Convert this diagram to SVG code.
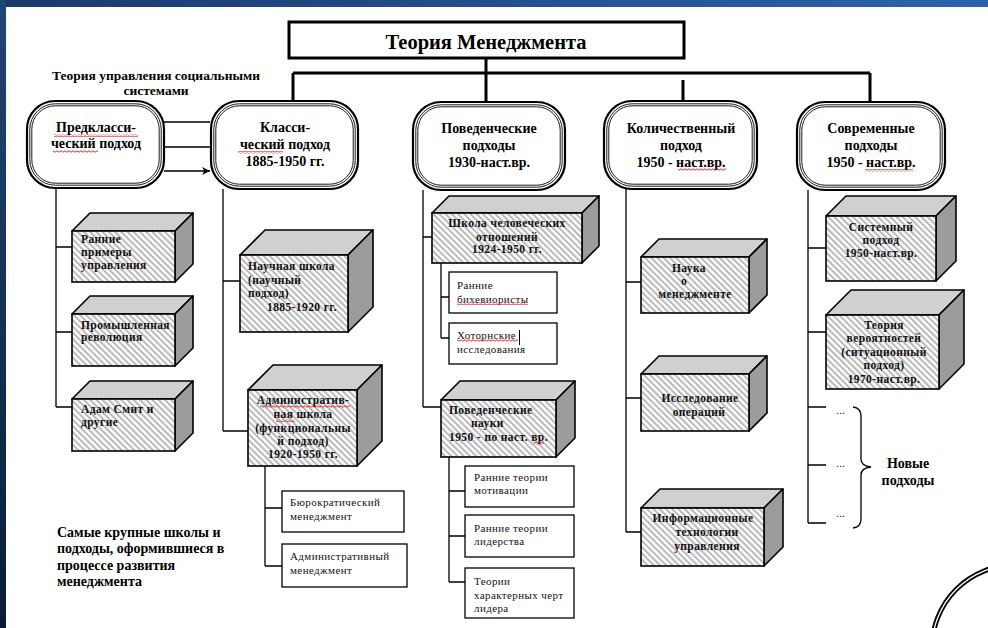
<svg xmlns="http://www.w3.org/2000/svg" width="988" height="628" viewBox="0 0 988 628" font-family="'Liberation Serif', 'DejaVu Serif', serif">
  <defs>
    <linearGradient id="barTop" x1="0" y1="0" x2="1" y2="0">
      <stop offset="0" stop-color="#1b3a6c"/>
      <stop offset="1" stop-color="#2d63ac"/>
    </linearGradient>
    <linearGradient id="barLeft" x1="0" y1="0" x2="0" y2="1">
      <stop offset="0" stop-color="#1f4678"/>
      <stop offset="1" stop-color="#0a1b37"/>
    </linearGradient>
    <pattern id="hatch" patternUnits="userSpaceOnUse" width="4.4" height="4.4" patternTransform="rotate(-45)">
      <rect width="4.4" height="4.4" fill="#ffffff"/>
      <rect width="2" height="4.4" fill="#b9b9b9"/>
    </pattern>
    <pattern id="wave" patternUnits="userSpaceOnUse" width="4" height="3">
      <path d="M0 1.5 Q1 0 2 1.5 T4 1.5" fill="none" stroke="#e01010" stroke-width="0.9"/>
    </pattern>
    <marker id="arrow" viewBox="0 0 10 10" refX="10" refY="5" markerWidth="8" markerHeight="8" orient="auto" markerUnits="userSpaceOnUse">
      <path d="M0 0 L10 5 L0 10 L3 5 Z" fill="#000"/>
    </marker>
    <style>
      text { font-family: "Liberation Serif", "DejaVu Serif", serif; }
      .ttl { font-weight: bold; fill: #000; }
      .bx { font-weight: bold; font-size: 14px; text-anchor: middle; fill: #000; }
      .cb { font-weight: bold; font-size: 11.5px; letter-spacing: 0.4px; fill: #111; }
      .cbm { text-anchor: middle; }
      .sb { font-size: 11px; letter-spacing: 0.4px; fill: #111; }
      .note { font-weight: bold; font-size: 14px; fill: #000; }
      .r-out { fill: #fff; stroke: #000; stroke-width: 2.2; }
      .r-in { fill: none; stroke: #000; stroke-width: 0.9; }
      .front { fill: url(#hatch); stroke: #000; stroke-width: 1.6; }
      .top { fill: #d0d0d0; stroke: #000; stroke-width: 1.6; stroke-linejoin: round; }
      .side { fill: #9c9c9c; stroke: #000; stroke-width: 1.6; stroke-linejoin: round; }
      .plain { fill: #fff; stroke: #000; stroke-width: 1.3; }
      .ln { fill: none; stroke: #000; stroke-width: 1.3; }
      .thick { fill: none; stroke: #000; stroke-width: 3; }
      .wv { fill: url(#wave); }
    </style>
  </defs>

  <!-- page background and frame bars -->
  <rect x="0" y="0" width="988" height="628" fill="#ffffff"/>
  <rect x="0" y="0" width="988" height="7" fill="url(#barTop)"/>
  <rect x="0" y="0" width="6" height="628" fill="url(#barLeft)"/>

  <!-- connectors -->
  <g id="connectors">
    <path class="thick" d="M486 58 V101 M293 73 H870 M293 73 V101 M870 73 V101 M683 80 V101"/>
    <path class="ln" d="M164 122 H210 M164 147 H210 M164 171 H210" marker-end="url(#arrow)"/>
    <!-- pre-classical column -->
    <path class="ln" d="M56 188 V407 M56 247 H72 M56 332 H72 M56 407 H72"/>
    <!-- classical column -->
    <path class="ln" d="M223 189 V431 M223 281 H240 M223 431 H248"/>
    <path class="ln" d="M265 466 V566 M265 508 H282 M265 566 H282"/>
    <!-- behavioural column -->
    <path class="ln" d="M423 190 V407 M423 237 H432 M423 407 H441"/>
    <path class="ln" d="M441 263 V338 M441 297 H449 M441 338 H449"/>
    <path class="ln" d="M449 457 V582 M449 491 H465 M449 536 H465 M449 582 H465"/>
    <!-- quantitative column -->
    <path class="ln" d="M626 189 V532 M626 282 H641 M626 398 H641 M626 532 H641"/>
    <!-- modern column -->
    <path class="ln" d="M808 190 V523 M808 248 H826 M808 332 H826 M808 407 H826 M808 465 H826 M808 523 H826"/>
    <path class="ln" d="M853 407 Q861 408 861 416 L861 459 Q861 466 871 467 Q861 468 861 475 L861 519 Q861 527 853 528"/>
  </g>

  <!-- title -->
  <g id="title">
    <rect x="289" y="22" width="395" height="36" fill="#fff" stroke="#000" stroke-width="3"/>
    <text class="ttl" x="486" y="49" font-size="20.5" text-anchor="middle">Теория Менеджмента</text>
  </g>

  <g id="social-label">
    <text class="ttl" x="156" y="80" font-size="13.5" text-anchor="middle">Теория управления социальными</text>
    <text class="ttl" x="156" y="95" font-size="13.5" text-anchor="middle">системами</text>
  </g>

  <!-- main approaches -->
  <g id="pre-classical">
    <rect class="r-out" x="27" y="101" width="137" height="87" rx="28"/>
    <rect class="r-in" x="29.8" y="103.8" width="131.4" height="81.4" rx="25.5"/>
    <rect class="r-in" x="31.8" y="105.8" width="127.4" height="77.4" rx="23.5"/>
    <text class="bx" x="96" y="132">Предкласси-</text>
    <text class="bx" x="96" y="148">ческий подход</text>
    <rect class="wv" x="54" y="134" width="84" height="3"/>
    <rect class="wv" x="53" y="150" width="45" height="3"/>
  </g>

  <g id="classical">
    <rect class="r-out" x="211" y="101" width="147" height="88" rx="28"/>
    <rect class="r-in" x="213.8" y="103.8" width="141.4" height="82.4" rx="25.5"/>
    <rect class="r-in" x="215.8" y="105.8" width="137.4" height="78.4" rx="23.5"/>
    <text class="bx" x="285" y="132">Класси-</text>
    <text class="bx" x="285" y="149">ческий подход</text>
    <text class="bx" x="285" y="166">1885-1950 гг.</text>
    <rect class="wv" x="238" y="151" width="45" height="3"/>
  </g>

  <g id="behavioural">
    <rect class="r-out" x="413" y="102" width="152" height="88" rx="28"/>
    <rect class="r-in" x="415.8" y="104.8" width="146.4" height="82.4" rx="25.5"/>
    <rect class="r-in" x="417.8" y="106.8" width="142.4" height="78.4" rx="23.5"/>
    <text class="bx" x="489" y="133">Поведенческие</text>
    <text class="bx" x="489" y="150">подходы</text>
    <text class="bx" x="489" y="167">1930-наст.вр.</text>
  </g>

  <g id="quantitative">
    <rect class="r-out" x="604" y="101" width="153" height="88" rx="28"/>
    <rect class="r-in" x="606.8" y="103.8" width="147.4" height="82.4" rx="25.5"/>
    <rect class="r-in" x="608.8" y="105.8" width="143.4" height="78.4" rx="23.5"/>
    <text class="bx" x="681" y="133">Количественный</text>
    <text class="bx" x="681" y="150">подход</text>
    <text class="bx" x="681" y="167">1950 - наст.вр.</text>
    <rect class="wv" x="678" y="168" width="48" height="3"/>
  </g>

  <g id="modern">
    <rect class="r-out" x="797" y="102" width="148" height="88" rx="28"/>
    <rect class="r-in" x="799.8" y="104.8" width="142.4" height="82.4" rx="25.5"/>
    <rect class="r-in" x="801.8" y="106.8" width="138.4" height="78.4" rx="23.5"/>
    <text class="bx" x="871" y="133">Современные</text>
    <text class="bx" x="871" y="150">подходы</text>
    <text class="bx" x="871" y="167">1950 - наст.вр.</text>
    <rect class="wv" x="865" y="169" width="48" height="3"/>
  </g>

  <!-- pre-classical schools -->
  <g id="early-examples">
    <polygon class="top" points="72,231 90,213 193,213 175,231"/>
    <polygon class="side" points="175,231 193,213 193,264 175,282"/>
    <rect class="front" x="72" y="231" width="103" height="51"/>
    <text class="cb" x="81" y="243">Ранние</text>
    <text class="cb" x="81" y="256">примеры</text>
    <text class="cb" x="81" y="269">управления</text>
  </g>

  <g id="industrial-revolution">
    <polygon class="top" points="72,314 90,296 193,296 175,314"/>
    <polygon class="side" points="175,314 193,296 193,348 175,366"/>
    <rect class="front" x="72" y="314" width="103" height="52"/>
    <text class="cb" x="81" y="329">Промышленная</text>
    <text class="cb" x="81" y="341">революция</text>
  </g>

  <g id="adam-smith">
    <polygon class="top" points="72,399 90,381 193,381 175,399"/>
    <polygon class="side" points="175,399 193,381 193,433 175,451"/>
    <rect class="front" x="72" y="399" width="103" height="52"/>
    <text class="cb" x="81" y="413">Адам Смит и</text>
    <text class="cb" x="81" y="426">другие</text>
  </g>

  <!-- classical schools -->
  <g id="scientific-school">
    <polygon class="top" points="240,255 265,230 373,230 348,255"/>
    <polygon class="side" points="348,255 373,230 373,307 348,332"/>
    <rect class="front" x="240" y="255" width="108" height="77"/>
    <text class="cb" x="248" y="270">Научная школа</text>
    <text class="cb" x="248" y="284">(научный</text>
    <text class="cb" x="248" y="297">подход)</text>
    <text class="cb" x="267" y="311">1885-1920 гг.</text>
  </g>

  <g id="administrative-school">
    <polygon class="top" points="248,390 273,365 382,365 357,390"/>
    <polygon class="side" points="357,390 382,365 382,441 357,466"/>
    <rect class="front" x="248" y="390" width="109" height="76"/>
    <text class="cb cbm" x="303" y="404">Административ-</text>
    <text class="cb cbm" x="303" y="418">ная школа</text>
    <text class="cb cbm" x="303" y="432">(функциональны</text>
    <text class="cb cbm" x="303" y="445">й подход)</text>
    <text class="cb cbm" x="303" y="458">1920-1950 гг.</text>
    <rect class="wv" x="260" y="405" width="90" height="3"/>
    <rect class="wv" x="276" y="419" width="19" height="3"/>
  </g>

  <g id="bureaucratic">
    <rect class="plain" x="282" y="491" width="122" height="41"/>
    <text class="sb" x="290" y="506">Бюрократический</text>
    <text class="sb" x="290" y="520">менеджмент</text>
  </g>

  <g id="administrative-mgmt">
    <rect class="plain" x="282" y="544" width="125" height="43"/>
    <text class="sb" x="290" y="560">Административный</text>
    <text class="sb" x="290" y="574">менеджмент</text>
  </g>

  <!-- behavioural schools -->
  <g id="human-relations">
    <polygon class="top" points="432,213 449,196 599,196 582,213"/>
    <polygon class="side" points="582,213 599,196 599,246 582,263"/>
    <rect class="front" x="432" y="213" width="150" height="50"/>
    <text class="cb cbm" x="507" y="227">Школа человеческих</text>
    <text class="cb cbm" x="507" y="241">отношений</text>
    <text class="cb cbm" x="507" y="253">1924-1950 гг.</text>
  </g>

  <g id="early-behaviourists">
    <rect class="plain" x="449" y="272" width="108" height="41"/>
    <text class="sb" x="457" y="289">Ранние</text>
    <text class="sb" x="457" y="303">бихевиористы</text>
    <rect class="wv" x="457" y="302" width="71" height="3"/>
  </g>

  <g id="hawthorne">
    <rect class="plain" x="449" y="323" width="108" height="41"/>
    <text class="sb" x="457" y="339">Хоторнские</text>
    <text class="sb" x="457" y="353">исследования</text>
    <rect class="wv" x="457" y="339" width="61" height="3"/>
    <line x1="519.5" y1="330" x2="519.5" y2="345" stroke="#000" stroke-width="1"/>
  </g>

  <g id="behavioural-sciences">
    <polygon class="top" points="441,400 460,381 575,381 556,400"/>
    <polygon class="side" points="556,400 575,381 575,438 556,457"/>
    <rect class="front" x="441" y="400" width="115" height="57"/>
    <text class="cb" x="449" y="414">Поведенческие</text>
    <text class="cb" x="471" y="427">науки</text>
    <text class="cb" x="449" y="441">1950 - по наст. вр.</text>
    <rect class="wv" x="533" y="442" width="11" height="3"/>
  </g>

  <g id="motivation">
    <rect class="plain" x="465" y="466" width="109" height="41"/>
    <text class="sb" x="474" y="481">Ранние теории</text>
    <text class="sb" x="474" y="494">мотивации</text>
  </g>

  <g id="leadership">
    <rect class="plain" x="465" y="515" width="109" height="42"/>
    <text class="sb" x="474" y="532">Ранние теории</text>
    <text class="sb" x="474" y="545">лидерства</text>
  </g>

  <g id="traits">
    <rect class="plain" x="465" y="568" width="109" height="50"/>
    <text class="sb" x="474" y="585">Теории</text>
    <text class="sb" x="474" y="599">характерных черт</text>
    <text class="sb" x="474" y="612">лидера</text>
  </g>

  <!-- quantitative schools -->
  <g id="management-science">
    <polygon class="top" points="641,257 659,239 767,239 749,257"/>
    <polygon class="side" points="749,257 767,239 767,295 749,313"/>
    <rect class="front" x="641" y="257" width="108" height="56"/>
    <text class="cb cbm" x="689" y="272">Наука</text>
    <text class="cb cbm" x="684" y="285">о</text>
    <text class="cb cbm" x="695" y="298">менеджменте</text>
  </g>

  <g id="operations-research">
    <polygon class="top" points="641,374 659,356 767,356 749,374"/>
    <polygon class="side" points="749,374 767,356 767,413 749,431"/>
    <rect class="front" x="641" y="374" width="108" height="57"/>
    <text class="cb cbm" x="700" y="402">Исследование</text>
    <text class="cb cbm" x="699" y="416">операций</text>
  </g>

  <g id="information-technology">
    <polygon class="top" points="641,508 660,489 783,489 764,508"/>
    <polygon class="side" points="764,508 783,489 783,547 764,566"/>
    <rect class="front" x="641" y="508" width="123" height="58"/>
    <text class="cb cbm" x="703" y="522">Информационные</text>
    <text class="cb cbm" x="707" y="536">технологии</text>
    <text class="cb cbm" x="707" y="550">управления</text>
  </g>

  <!-- modern approaches -->
  <g id="systems-approach">
    <polygon class="top" points="826,216 846,196 956,196 936,216"/>
    <polygon class="side" points="936,216 956,196 956,261 936,281"/>
    <rect class="front" x="826" y="216" width="110" height="65"/>
    <text class="cb cbm" x="881" y="231">Системный</text>
    <text class="cb cbm" x="881" y="244">подход</text>
    <text class="cb cbm" x="881" y="257">1950-наст.вр.</text>
  </g>

  <g id="contingency">
    <polygon class="top" points="826,315 851,290 964,290 939,315"/>
    <polygon class="side" points="939,315 964,290 964,364 939,389"/>
    <rect class="front" x="826" y="315" width="113" height="74"/>
    <text class="cb cbm" x="884" y="329">Теория</text>
    <text class="cb cbm" x="884" y="342">вероятностей</text>
    <text class="cb cbm" x="884" y="356">(ситуационный</text>
    <text class="cb cbm" x="884" y="369">подход)</text>
    <text class="cb cbm" x="884" y="383">1970-наст.вр.</text>
  </g>

  <g id="new-approaches">
    <text class="sb" x="836" y="414">...</text>
    <text class="sb" x="836" y="467">...</text>
    <text class="sb" x="836" y="517">...</text>
    <text class="note" x="908" y="468" text-anchor="middle">Новые</text>
    <text class="note" x="908" y="485" text-anchor="middle">подходы</text>
  </g>

  <g id="summary-note">
    <text class="note" x="57" y="537">Самые крупные школы и</text>
    <text class="note" x="57" y="553">подходы, оформившиеся в</text>
    <text class="note" x="57" y="570">процессе развития</text>
    <text class="note" x="57" y="586">менеджмента</text>
  </g>

  <!-- corner ornament -->
  <g id="corner-ring">
    <circle cx="1015" cy="648" r="83" fill="none" stroke="#000" stroke-width="5"/>
    <circle cx="1015" cy="648" r="83" fill="none" stroke="#fff" stroke-width="1.3"/>
  </g>
</svg>
